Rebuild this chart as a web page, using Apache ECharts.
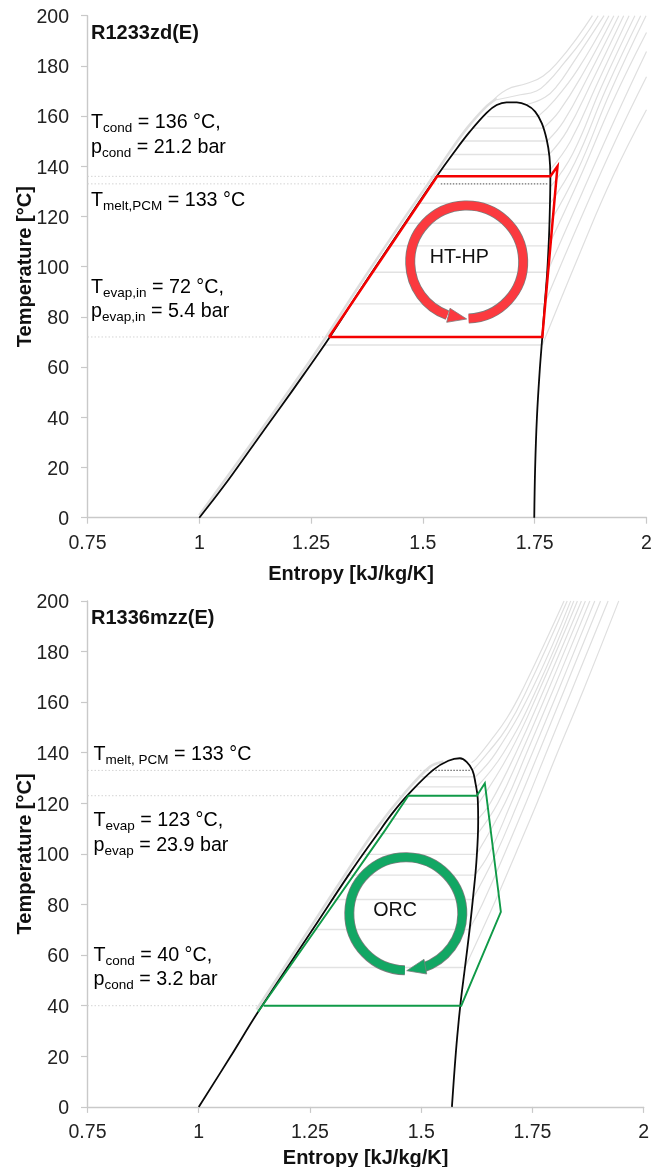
<!DOCTYPE html>
<html><head><meta charset="utf-8">
<style>html,body{margin:0;padding:0;background:#fff}#c{width:666px;height:1167px}</style>
<script src="https://cdn.jsdelivr.net/npm/echarts@6/dist/echarts.min.js"></script>
</head><body><div id="c"></div>
<script>
const xTicks=[0.75,1,1.25,1.5,1.75,2];
const titles=['R1233zd(E)','R1336mzz(E)'];
const xName='Entropy [kJ/kg/K]', yName='Temperature [°C]';
// Top chart: saturation dome
const domeA=[[1,0],[1.054,12.4],[1.121,29],[1.18,43.6],[1.233,56.9],[1.29,71.5],[1.35,88],[1.415,105.5],[1.47,120],[1.531,136],[1.568,145.2],[1.605,153.8],[1.643,161.4],[1.665,164.4],[1.687,165.5],[1.71,165.5],[1.732,164.4],[1.751,161.8],[1.766,157.1],[1.777,150.5],[1.783,143.8],[1.785,135.9],[1.784,123.9],[1.782,112],[1.778,98],[1.772,84],[1.767,72],[1.761,58],[1.755,40],[1.751,20],[1.749,0]];
const bandA=[[1,1],[1.12,30.5],[1.23,58],[1.287,73],[1.345,89],[1.41,106.5],[1.465,121],[1.527,137],[1.565,147],[1.6,155.5],[1.64,163.5],[1.665,167]];
const cycleA=[[1.29,72],[1.532,136],[1.785,136],[1.801,140],[1.767,72],[1.29,72]];
const levelsA=[[159.8,1.644,1.757],[155.2,1.61,1.769],[150.1,1.589,1.778],[144.7,1.566,1.782],[138.8,1.541,1.785],[125.3,1.49,1.785],[117.3,1.46,1.783],[108.3,1.425,1.781],[97.8,1.385,1.778],[85.2,1.34,1.772],[68.8,1.28,1.765]];
const isobarsA=[
[[1.65,165],[1.687,170.5],[1.732,173],[1.769,176],[1.806,182.4],[1.844,191],[1.879,200]],
[[1.665,166.5],[1.71,168.2],[1.754,170],[1.78,173.7],[1.815,181],[1.855,190],[1.892,200]],
[[1.732,164.6],[1.773,167.5],[1.80,172],[1.835,181],[1.905,200]],
[[1.757,159.8],[1.795,166.5],[1.846,178.5],[1.916,200]],
[[1.769,155.2],[1.805,162],[1.858,177],[1.927,200]],
[[1.778,150.1],[1.815,158],[1.87,176],[1.938,200]],
[[1.782,144.7],[1.822,154],[1.88,174.5],[1.949,200]],
[[1.785,138.8],[1.83,150],[1.89,173],[1.961,200]],
[[1.786,132],[1.835,145],[1.9,172],[1.974,200]],
[[1.785,125.3],[1.84,141.5],[1.91,171],[1.987,200]],
[[1.783,117.3],[1.845,138],[1.92,170],[1.999,200]],
[[1.781,108.3],[1.85,135],[1.925,166],[2,193.3]],
[[1.778,97.8],[1.855,129],[1.93,159],[2,185.7]],
[[1.772,85.2],[1.855,120],[1.93,150],[2,175.7]],
[[1.767,68.8],[1.85,105],[1.925,136],[2,162.5]]];
const dottedA=[[136,0.75,1.53],[133,0.75,1.54],[72,0.75,1.29]];
const darkDotA=[[133,1.54,1.78]];
// Bottom chart
const domeB=[[1,0],[1.07,19.5],[1.135,38],[1.26,71.2],[1.34,92.5],[1.40,107.5],[1.435,116],[1.471,123.5],[1.527,133.2],[1.561,136.8],[1.587,137.8],[1.602,136.4],[1.615,133.1],[1.622,127.9],[1.627,121.9],[1.628,112.7],[1.624,96.9],[1.617,83.7],[1.609,70.5],[1.598,54.7],[1.589,42],[1.581,28],[1.575,15],[1.569,0]];
const bandB=[[1.13,38.5],[1.255,72],[1.335,93.5],[1.395,109],[1.465,124.5],[1.52,134.5],[1.55,136.5]];
const cycleB=[[1.133,37.5],[1.419,109.4],[1.471,123],[1.625,123],[1.643,127.9],[1.679,77.1],[1.59,40],[1.146,40]];
const levelsB=[[130.5,1.50,1.62],[126.5,1.485,1.623],[119.6,1.455,1.627],[113.8,1.43,1.628],[108,1.40,1.627],[99.8,1.365,1.623],[91.6,1.33,1.62],[82,1.295,1.615],[70.1,1.25,1.608],[55.1,1.195,1.597]];
const isobarsB=[
[[1.613,136],[1.624,137.7],[1.654,144.3],[1.692,153.5],[1.729,165.4],[1.821,200]],
[[1.618,133.5],[1.65,140],[1.693,150],[1.739,165.4],[1.828,200]],
[[1.622,130.5],[1.668,140],[1.75,165.4],[1.836,200]],
[[1.625,126.5],[1.685,140],[1.76,165.4],[1.843,200]],
[[1.627,119.6],[1.699,140],[1.767,165.4],[1.851,200]],
[[1.628,113.8],[1.655,120],[1.713,140],[1.777,165.4],[1.86,200]],
[[1.627,108],[1.672,120],[1.725,140],[1.787,165.4],[1.869,200]],
[[1.624,99.8],[1.688,120],[1.737,140],[1.798,165.4],[1.879,200]],
[[1.62,91.6],[1.652,100],[1.702,120],[1.75,140],[1.81,165.4],[1.89,200]],
[[1.615,82],[1.668,100],[1.717,120],[1.764,140],[1.823,165.4],[1.903,200]],
[[1.609,70.5],[1.637,80],[1.687,100],[1.735,120],[1.781,140],[1.84,165.4],[1.92,200]],
[[1.598,55],[1.663,80],[1.712,100],[1.76,120],[1.806,140],[1.866,165.4],[1.944,200]]];
const dottedB=[[133,0.75,1.525],[123,0.75,1.47],[40,0.75,1.145]];
const darkDotB=[[133,1.525,1.612]];
// Annotations: [main, subscript, rest, y]
const notesA=[['T','cond',' = 136 °C,',123],['p','cond',' = 21.2 bar',148],['T','melt,PCM',' = 133 °C',201],['T','evap,in',' = 72 °C,',288],['p','evap,in',' = 5.4 bar',312]];
const notesB=[['T','melt, PCM',' = 133 °C',755],['T','evap',' = 123 °C,',821],['p','evap',' = 23.9 bar',846],['T','cond',' = 40 °C,',956],['p','cond',' = 3.2 bar',980]];

const FONT='"Liberation Sans",Arial,sans-serif';
const GL=[{left:87.5,top:15.7,width:559,height:502,outerBoundsMode:'none'},{left:87.5,top:600.9,width:556.2,height:506,outerBoundsMode:'none'}];
function line(data,g,color,width,extra){
  return Object.assign({type:'line',xAxisIndex:g,yAxisIndex:g,data:data,showSymbol:false,silent:true,animation:false,
    lineStyle:{color:color,width:width,cap:'butt',join:'miter'}},extra||{});
}
function seg(r){return [[r[1],r[0]],[r[2],r[0]]];}
const series=[];
function addChart(g,band,isobars,levels,dotted,dark,dome,cycle,col,cw){
  series.push(line(band,g,'#dedede',2.6,{smooth:0.3}));
  isobars.forEach(c=>series.push(line(c,g,'#dfdfdf',1.2,{smooth:0.45})));
  levels.forEach(r=>series.push(line(seg(r),g,'#e2e2e2',1.4)));
  dotted.forEach(r=>{const s=line(seg(r),g,'#d4d4d4',1);s.lineStyle.type=[1.5,2];series.push(s);});
  dark.forEach(r=>{const s=line(seg(r),g,'#707070',1.1);s.lineStyle.type=[1.5,1.5];series.push(s);});
  series.push(line(dome,g,'#0a0a0a',1.8,{smooth:0.4}));
  series.push(line(cycle,g,col,cw));
}
addChart(0,bandA,isobarsA,levelsA,dottedA,darkDotA,domeA,cycleA,'#f40000',2.5);
addChart(1,bandB,isobarsB,levelsB,dottedB,darkDotB,domeB,cycleB,'#109a48',1.9);

const axisLine={lineStyle:{color:'#c9c9c9',width:1.4}};
function xAx(g,margin,gap,namePad){return {type:'value',gridIndex:g,min:0.75,max:2,interval:0.25,name:xName,nameLocation:'middle',nameGap:gap,nameMoveOverlap:false,
  nameTextStyle:{fontFamily:FONT,fontWeight:'bold',fontSize:20,color:'#111',padding:namePad},
  splitLine:{show:false},axisLine:axisLine,axisTick:{show:true,length:6,lineStyle:{color:'#c9c9c9',width:1.2},inside:false},
  axisLabel:{margin:margin,fontFamily:FONT,fontSize:19.5,color:'#222',showMinLabel:true,showMaxLabel:true,hideOverlap:false,alignMinLabel:'center',alignMaxLabel:'center',formatter:v=>String(+v.toFixed(2))}};}
function yAx(g){return {type:'value',gridIndex:g,min:0,max:200,interval:20,name:yName,nameLocation:'middle',nameGap:52,nameMoveOverlap:false,
  nameTextStyle:{fontFamily:FONT,fontWeight:'bold',fontSize:20,color:'#111'},
  splitLine:{show:false},axisLine:Object.assign({show:true},axisLine),axisTick:{show:true,length:6.5,lineStyle:{color:'#c9c9c9',width:1.2}},
  axisLabel:{margin:18.5,verticalAlign:'top',lineHeight:4,fontFamily:FONT,fontSize:19.5,color:'#222',showMinLabel:true,showMaxLabel:true}};}

const graphic=[];
function note(n,x){
  graphic.push({type:'text',z:50,x:x,y:n[3],style:{text:'{a|'+n[0]+'}{b|'+n[1]+'}{a|'+n[2]+'}',verticalAlign:'middle',
    rich:{a:{fontFamily:FONT,fontSize:19.7,color:'#1c1c1c',lineHeight:24},b:{fontFamily:FONT,fontSize:13.5,color:'#1c1c1c',lineHeight:24,verticalAlign:'bottom'}}}});
}
notesA.forEach(n=>note(n,91));
notesB.forEach(n=>note(n,93.5));
function label(t,x,y,bold,anchor,size){graphic.push({type:'text',z:50,x:x,y:y,style:{text:t,fontFamily:FONT,fontSize:size,fontWeight:bold?'bold':'normal',fill:'#111',align:anchor,verticalAlign:'middle'}});}
label(titles[0],91,33,true,'left',20);
label(titles[1],91,618,true,'left',20);
label('HT-HP',459.3,258,false,'center',19.7);
label('ORC',395,911,false,'center',19.7);
function ring(cx,cy,a0,a1,cw,col,head){
  const rad=d=>d*Math.PI/180;
  const sh={cx:cx,cy:cy,r:56.5,startAngle:rad(a0),endAngle:rad(a1),clockwise:cw};
  graphic.push({type:'arc',z:40,shape:sh,style:{fill:null,stroke:'#7d7d7d',lineWidth:10}});
  graphic.push({type:'arc',z:41,shape:sh,style:{fill:null,stroke:col,lineWidth:8.4}});
  graphic.push({type:'polygon',z:42,shape:{points:head},style:{fill:col,stroke:'#7d7d7d',lineWidth:0.8}});
}
ring(466.7,262,88,110,false,'#fb3a3f',[[450,308.3],[466.7,319],[446.7,322.3]]);
ring(405.8,913.7,91,72,true,'#12a764',[[424,959.3],[406.7,970.7],[426.7,974]]);

const chart=echarts.init(document.getElementById('c'),null,{renderer:'canvas'});
chart.setOption({animation:false,backgroundColor:'#fff',grid:GL,
  xAxis:[xAx(0,16,47,[0,32,0,0]),xAx(1,16,42,0)],yAxis:[yAx(0),yAx(1)],series:series,graphic:graphic});
</script></body></html>
